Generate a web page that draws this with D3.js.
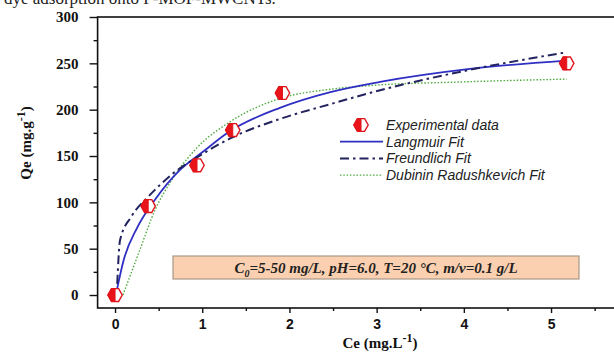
<!DOCTYPE html>
<html>
<head>
<meta charset="utf-8">
<script src="https://cdn.jsdelivr.net/npm/d3@7"></script>
<style>
  html, body { margin: 0; padding: 0; background: #fff; }
  svg { display: block; }
</style>
</head>
<body>
<script>
// Adsorption isotherm: experimental points and three model fits
const expCe = [0, 0.38, 0.94, 1.35, 1.92, 5.18];
const expQe = [0, 96, 140, 178, 218, 250];

const langmuirCe = [0.02, 0.1, 0.25, 0.46, 0.745, 1.0, 1.32, 1.89, 2.47, 3.04, 4.07, 5.18];
const langmuirQe = [5, 38, 72, 103, 135, 154, 177, 202, 219, 230, 244, 253];

const freundlichCe = [0.025, 0.057, 0.19, 0.38, 0.65, 1.0, 1.32, 1.89, 2.47, 3.04, 4.07, 5.18];
const freundlichQe = [12, 59, 85, 106, 130, 152, 169, 190, 206, 221, 243, 262];

const dubininCe = [0.09, 0.27, 0.46, 0.65, 0.92, 1.32, 1.89, 2.47, 2.92, 4.0, 5.18];
const dubininQe = [0, 45, 92, 124, 157, 187, 212, 222, 226, 230, 233];

const xTicks = [0, 1, 2, 3, 4, 5];
const xMinor = [0.5, 1.5, 2.5, 3.5, 4.5, 5.5];
const yTicks = [0, 50, 100, 150, 200, 250, 300];
const yMinor = [25, 75, 125, 175, 225, 275];

const legendItems = ["Experimental data", "Langmuir Fit", "Freundlich Fit", "Dubinin Radushkevich Fit"];

const W = 614, H = 352;
const svg = d3.select("body").append("svg").attr("width", W).attr("height", H);

const x = d3.scaleLinear().domain([-0.2, 5.8]).range([97.6, 620.8]);
const y = d3.scaleLinear().domain([-14, 300]).range([308, 17]);

const serif = "'Liberation Serif', 'Times New Roman', serif";
const sans = "'Liberation Sans', Arial, sans-serif";

// running text of the page above the figure
svg.append("text").attr("x", 4).attr("y", 4)
  .attr("font-family", serif).attr("font-size", 17).attr("fill", "#222")
  .text("dye adsorption onto P-MOF-MWCNTs.");

// frame
svg.append("rect")
  .attr("x", x(-0.2)).attr("y", y(300))
  .attr("width", x(5.8) - x(-0.2)).attr("height", y(-14) - y(300))
  .attr("fill", "none").attr("stroke", "#111").attr("stroke-width", 1.6);

// axes
const gx = svg.append("g").attr("transform", `translate(0,${y(-14)})`)
  .call(d3.axisBottom(x).tickValues(xTicks).tickFormat(d3.format("d")).tickSize(5).tickPadding(6));
const gxm = svg.append("g").attr("transform", `translate(0,${y(-14)})`)
  .call(d3.axisBottom(x).tickValues(xMinor).tickFormat("").tickSize(3));
const gy = svg.append("g").attr("transform", `translate(${x(-0.2)},0)`)
  .call(d3.axisLeft(y).tickValues(yTicks).tickSize(8).tickPadding(11));
const gym = svg.append("g").attr("transform", `translate(${x(-0.2)},0)`)
  .call(d3.axisLeft(y).tickValues(yMinor).tickFormat("").tickSize(4));

[gx, gxm, gy, gym].forEach(g => {
  g.select(".domain").remove();
  g.selectAll("line").attr("stroke", "#111").attr("stroke-width", 1.4);
  g.selectAll("text").attr("font-family", serif).attr("font-weight", "bold")
    .attr("font-size", 15).attr("fill", "#111");
});
gx.selectAll("text").attr("font-family", sans).attr("font-size", 14);

// axis titles
const yl = svg.append("text")
  .attr("transform", `translate(31,143) rotate(-90)`)
  .attr("text-anchor", "middle")
  .attr("font-family", serif).attr("font-weight", "bold").attr("font-size", 15).attr("fill", "#111");
yl.append("tspan").text("Qe (mg.g");
yl.append("tspan").attr("dy", -6).attr("font-size", 12).text("-1");
yl.append("tspan").attr("dy", 6).text(")");

const xl = svg.append("text")
  .attr("x", 380).attr("y", 348)
  .attr("text-anchor", "middle")
  .attr("font-family", serif).attr("font-weight", "bold").attr("font-size", 15).attr("fill", "#111");
xl.append("tspan").text("Ce (mg.L");
xl.append("tspan").attr("dy", -6).attr("font-size", 12).text("-1");
xl.append("tspan").attr("dy", 6).text(")");

// conditions box
svg.append("rect").attr("x", 173).attr("y", 256).attr("width", 406).attr("height", 23)
  .attr("fill", "#fbd0b0").attr("stroke", "#a99888").attr("stroke-width", 1.2);
const cond = svg.append("text").attr("x", 376).attr("y", 273)
  .attr("text-anchor", "middle")
  .attr("font-family", serif).attr("font-weight", "bold").attr("font-style", "italic")
  .attr("font-size", 15).attr("fill", "#222");
cond.append("tspan").text("C");
cond.append("tspan").attr("dy", 4).attr("font-size", 10).text("0");
cond.append("tspan").attr("dy", -4).text("=5-50 mg/L, pH=6.0, T=20 °C, m/v=0.1 g/L");

// fit curves
const line = d3.line().x(d => x(d[0])).y(d => y(d[1])).curve(d3.curveMonotoneX);
const fits = [
  { ce: dubininCe, qe: dubininQe, color: "#4caa3c", width: 1.4, dash: "1.5,1.8" },
  { ce: langmuirCe, qe: langmuirQe, color: "#2f2fc4", width: 1.8, dash: null },
  { ce: freundlichCe, qe: freundlichQe, color: "#23235f", width: 2, dash: "9,4,2.5,4" }
];
fits.forEach(f => {
  svg.append("path")
    .datum(f.ce.map((c, i) => [c, f.qe[i]]))
    .attr("d", line)
    .attr("fill", "none").attr("stroke", f.color).attr("stroke-width", f.width)
    .attr("stroke-dasharray", f.dash);
});

// half-filled hexagon marker
function marker(g, cx, cy) {
  const rx = 7.2, ry = 6.4;
  const full = [[-rx, 0], [-rx / 2, -ry], [rx / 2, -ry], [rx, 0], [rx / 2, ry], [-rx / 2, ry]];
  const left = [[-rx, 0], [-rx / 2, -ry], [0, -ry], [0, ry], [-rx / 2, ry]];
  const p = pts => "M" + pts.map(q => [cx + q[0], cy + q[1]].join(",")).join("L") + "Z";
  g.append("path").attr("d", p(full)).attr("fill", "#fff").attr("stroke", "#e0151b").attr("stroke-width", 1.4);
  g.append("path").attr("d", p(left)).attr("fill", "#e8141a").attr("stroke", "#e0151b").attr("stroke-width", 1);
}
const pts = svg.append("g");
expCe.forEach((c, i) => marker(pts, x(c), y(expQe[i])));

// legend
const lg = svg.append("g");
const ly = [125, 141.7, 158.4, 175.1];
const lx0 = 340, lx1 = 383;
marker(lg, 361, ly[0]);
[[1, fits[1]], [2, fits[2]], [3, fits[0]]].forEach(([i, f]) => {
  lg.append("line").attr("x1", lx0).attr("x2", lx1).attr("y1", ly[i]).attr("y2", ly[i])
    .attr("stroke", f.color).attr("stroke-width", f.width).attr("stroke-dasharray", f.dash);
});
legendItems.forEach((t, i) => {
  lg.append("text").attr("x", 386).attr("y", ly[i] + 5)
    .attr("font-family", sans).attr("font-style", "italic").attr("font-size", 14).attr("fill", "#222")
    .text(t);
});
</script>
</body>
</html>
